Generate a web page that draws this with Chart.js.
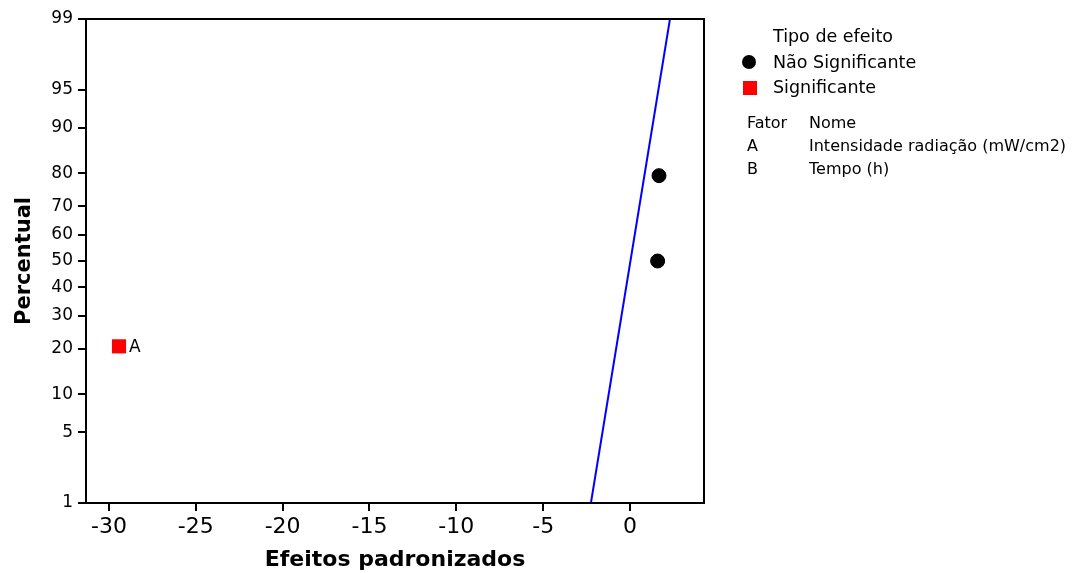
<!DOCTYPE html>
<html>
<head>
<meta charset="utf-8">
<script src="https://cdn.jsdelivr.net/npm/chart.js@4.4.1/dist/chart.umd.min.js"></script>
<style>
  body { margin: 0; background: #fff; }
  #wrap { width: 1079px; height: 573px; }
</style>
</head>
<body>
<div id="wrap"><canvas id="c" width="1079" height="573"></canvas></div>
<script>
// effects and their normal-probability percentiles
const naoSigEffects = [1.59, 1.67];
const naoSigPercent = [50, 79.4];
const sigEffects = [-29.42];
const sigPercent = [20.6];
const sigLabels = ["A"];

// fitted normal line end points
const lineEffects = [-2.25, 2.30];
const linePercent = [1, 99];

const xTicks = [-30, -25, -20, -15, -10, -5, 0];
const yTicks = [1, 5, 10, 20, 30, 40, 50, 60, 70, 80, 90, 95, 99];

const fatores = ["A", "B"];
const nomes = ["Intensidade radiação (mW/cm2)", "Tempo (h)"];

const FONT = "'DejaVu Sans', Verdana, sans-serif";

// inverse normal cdf (Acklam)
function probit(p) {
  const a = [-39.69683028665376, 220.9460984245205, -275.9285104469687, 138.3577518672690, -30.66479806614716, 2.506628277459239];
  const b = [-54.47609879822406, 161.5858368580409, -155.6989798598866, 66.80131188771972, -13.28068155288572];
  const c = [-0.007784894002430293, -0.3223964580411365, -2.400758277161838, -2.549732539343734, 4.374664141464968, 2.938163982698783];
  const d = [0.007784695709041462, 0.3224671290700398, 2.445134137142996, 3.754408661907416];
  const pl = 0.02425;
  let q, r;
  if (p < pl) {
    q = Math.sqrt(-2 * Math.log(p));
    return (((((c[0]*q+c[1])*q+c[2])*q+c[3])*q+c[4])*q+c[5]) / ((((d[0]*q+d[1])*q+d[2])*q+d[3])*q+1);
  }
  if (p > 1 - pl) {
    q = Math.sqrt(-2 * Math.log(1 - p));
    return -(((((c[0]*q+c[1])*q+c[2])*q+c[3])*q+c[4])*q+c[5]) / ((((d[0]*q+d[1])*q+d[2])*q+d[3])*q+1);
  }
  q = p - 0.5; r = q * q;
  return (((((a[0]*r+a[1])*r+a[2])*r+a[3])*r+a[4])*r+a[5])*q / (((((b[0]*r+b[1])*r+b[2])*r+b[3])*r+b[4])*r+1);
}

function normCdf(z) {
  const t = 1 / (1 + 0.3275911 * Math.abs(z) / Math.SQRT2);
  const y = 1 - (((((1.061405429*t - 1.453152027)*t) + 1.421413741)*t - 0.284496736)*t + 0.254829592)*t * Math.exp(-z*z/2);
  return z >= 0 ? 0.5 * (1 + y) : 0.5 * (1 - y);
}

// normal probability scale
class ProbitScale extends Chart.LinearScale {
  static id = "probit";
  static defaults = Chart.LinearScale.defaults;
  getPixelForValue(value) {
    const z0 = probit(this.min / 100), z1 = probit(this.max / 100);
    return this.getPixelForDecimal((probit(value / 100) - z0) / (z1 - z0));
  }
  getValueForPixel(pixel) {
    const z0 = probit(this.min / 100), z1 = probit(this.max / 100);
    return 100 * normCdf(z0 + this.getDecimalForPixel(pixel) * (z1 - z0));
  }
}
Chart.register(ProbitScale);

const extras = {
  id: "extras",
  afterDraw(chart) {
    const ctx = chart.ctx;
    const a = chart.chartArea;
    ctx.save();
    ctx.strokeStyle = "#000";
    ctx.lineWidth = 2;
    ctx.strokeRect(a.left, a.top, a.right - a.left, a.bottom - a.top);

    // labels on significant effects
    const meta = chart.getDatasetMeta(1);
    ctx.fillStyle = "#000";
    ctx.font = "17px " + FONT;
    ctx.textBaseline = "middle";
    ctx.textAlign = "left";
    meta.data.forEach((pt, i) => ctx.fillText(sigLabels[i], pt.x + 10, pt.y + 1));

    // legend
    ctx.font = "17.5px " + FONT;
    ctx.fillText("Tipo de efeito", 773, 37);
    ctx.beginPath();
    ctx.arc(749, 62, 7, 0, Math.PI * 2);
    ctx.fill();
    ctx.fillText("Não Significante", 773, 63);
    ctx.fillStyle = "#ff0000";
    ctx.fillRect(743, 81, 14, 14);
    ctx.fillStyle = "#000";
    ctx.fillText("Significante", 773, 88);

    ctx.font = "16px " + FONT;
    ctx.fillText("Fator", 747, 124);
    ctx.fillText("Nome", 809, 124);
    fatores.forEach((f, i) => {
      ctx.fillText(f, 747, 147 + i * 22.5);
      ctx.fillText(nomes[i], 809, 147 + i * 22.5);
    });
    ctx.restore();
  }
};

new Chart(document.getElementById("c"), {
  type: "scatter",
  data: {
    datasets: [
      {
        label: "Não Significante",
        data: naoSigEffects.map((x, i) => ({ x: x, y: naoSigPercent[i] })),
        backgroundColor: "#000",
        borderColor: "#000",
        pointRadius: 7,
        pointStyle: "circle"
      },
      {
        label: "Significante",
        data: sigEffects.map((x, i) => ({ x: x, y: sigPercent[i] })),
        backgroundColor: "#ff0000",
        borderColor: "#ff0000",
        borderWidth: 0,
        pointRadius: 10,
        pointStyle: "rect"
      },
      {
        type: "line",
        label: "linha",
        data: lineEffects.map((x, i) => ({ x: x, y: linePercent[i] })),
        borderColor: "#0000ff",
        borderWidth: 2,
        pointRadius: 0,
        fill: false
      }
    ]
  },
  options: {
    responsive: false,
    animation: false,
    layout: { padding: { top: 19, right: 375, left: 0, bottom: 0 } },
    plugins: {
      legend: { display: false },
      tooltip: { enabled: false }
    },
    scales: {
      x: {
        type: "linear",
        min: -31.32,
        max: 4.26,
        afterBuildTicks: (s) => { s.ticks = xTicks.map(v => ({ value: v })); },
        afterFit: (s) => { s.height = 70; },
        ticks: { color: "#000", font: { family: FONT, size: 22 }, padding: 3, callback: (v) => String(v) },
        grid: { drawOnChartArea: false, tickLength: 8, color: "#000", lineWidth: 2 },
        border: { display: true, color: "#000", width: 2 },
        title: {
          display: true,
          text: "Efeitos padronizados",
          color: "#000",
          font: { family: FONT, size: 22, weight: "bold" },
          padding: { top: 0, bottom: 0 }
        }
      },
      y: {
        type: "probit",
        min: 1,
        max: 99,
        afterBuildTicks: (s) => { s.ticks = yTicks.map(v => ({ value: v })); },
        afterFit: (s) => { s.width = 86; },
        ticks: { color: "#000", font: { family: FONT, size: 17 }, padding: 5, callback: (v) => String(v) },
        grid: { drawOnChartArea: false, tickLength: 8, color: "#000", lineWidth: 2 },
        border: { display: true, color: "#000", width: 2 },
        title: {
          display: true,
          text: "Percentual",
          color: "#000",
          font: { family: FONT, size: 21, weight: "bold" },
          padding: { top: 12, bottom: 0 }
        }
      }
    }
  },
  plugins: [extras]
});
</script>
</body>
</html>
